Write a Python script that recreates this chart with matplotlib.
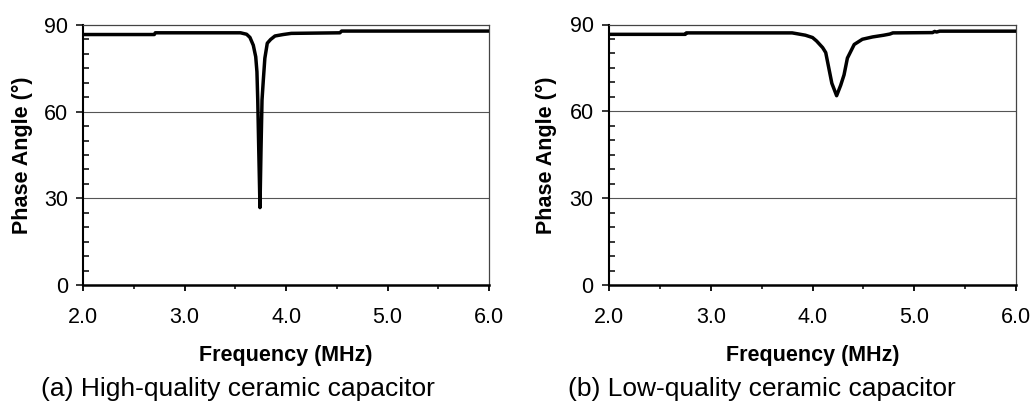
import matplotlib
matplotlib.use("Agg")
import matplotlib.pyplot as plt
from matplotlib.ticker import MultipleLocator, FormatStrFormatter

# ---- data ----
freq_a = [2.00, 2.70, 2.71, 3.55, 3.61, 3.643, 3.676, 3.70, 3.712, 3.72, 3.73, 3.742,
          3.752, 3.762, 3.775, 3.79, 3.814, 3.847, 3.89, 3.97, 4.05, 4.53, 4.547, 6.00]
phase_a = [86.7, 86.7, 87.3, 87.3, 86.8, 85.7, 83.0, 79.0, 73.8, 64.0, 46.7, 26.8,
           46.7, 64.0, 71.0, 78.5, 83.7, 85.0, 86.2, 86.7, 87.1, 87.3, 87.9, 87.9]

freq_b = [2.00, 2.75, 2.76, 3.80, 3.85, 3.93, 4.00, 4.04, 4.10, 4.13, 4.16, 4.19, 4.237,
          4.277, 4.31, 4.343, 4.41, 4.49, 4.59, 4.70, 4.76, 4.79, 5.18, 5.20, 5.22, 5.25, 6.00]
phase_b = [86.6, 86.6, 87.1, 87.1, 86.8, 86.3, 85.5, 84.3, 82.0, 80.3, 75.0, 69.7, 65.4,
           69.0, 72.6, 78.4, 83.1, 84.9, 85.7, 86.3, 86.7, 87.1, 87.2, 87.6, 87.4, 87.7, 87.7]

x_ticks = [2.0, 3.0, 4.0, 5.0, 6.0]
y_ticks = [0, 30, 60, 90]
xlabel = "Frequency (MHz)"
ylabel = "Phase Angle (°)"
captions = ["(a) High-quality ceramic capacitor", "(b) Low-quality ceramic capacitor"]

plt.rcParams['font.family'] = ['Liberation Sans', 'DejaVu Sans']

fig = plt.figure(figsize=(10.32, 4.05), dpi=100)
W, H = 1032, 405
boxes = [(83.3, 489.0, 25.0, 285.0), (609.0, 1016.0, 24.5, 285.0)]
caption_x = [237.5, 761.5]

for i, (fx, py) in enumerate([(freq_a, phase_a), (freq_b, phase_b)]):
    l, r, t, b = boxes[i]
    ax = fig.add_axes([l / W, 1 - b / H, (r - l) / W, (b - t) / H])
    ax.plot(fx, py, color='black', lw=2.5, solid_joinstyle='round', zorder=3)
    ax.set_xlim(2.0, 6.0)
    ax.set_ylim(0, 90)
    ax.set_xticks(x_ticks)
    ax.set_yticks(y_ticks)
    ax.xaxis.set_major_formatter(FormatStrFormatter('%.1f'))
    ax.xaxis.set_minor_locator(MultipleLocator(0.5))
    ax.yaxis.set_minor_locator(MultipleLocator(5))
    for yv in [30, 60]:
        ax.axhline(yv, color='#555555', lw=0.8, zorder=1)
    ax.spines['left'].set_linewidth(1.5)
    ax.spines['bottom'].set_linewidth(1.8)
    for s in ['top', 'right']:
        ax.spines[s].set_color('#444444')
        ax.spines[s].set_linewidth(0.9)
    ax.tick_params(axis='x', which='major', direction='out', length=4.5, width=1.3,
                   pad=11, labelsize=15.5)
    ax.tick_params(axis='x', which='minor', direction='out', length=3.0, width=1.1)
    ax.tick_params(axis='y', which='major', direction='out', length=5.0, width=1.1,
                   pad=6, labelsize=15.5)
    ax.tick_params(axis='y', which='minor', direction='in', length=4.0, width=1.1)
    ax.tick_params(top=False, right=False, which='both')
    ax.set_xlabel(xlabel, fontsize=15.5, fontweight='bold')
    ax.set_ylabel(ylabel, fontsize=15.5, fontweight='bold')
    ax.xaxis.label.set_va('center')
    ax.xaxis.set_label_coords(0.5, (b - 355.0) / (b - t))
    ax.yaxis.label.set_va('center')
    ax.yaxis.label.set_ha('center')
    lab_x = [22.0, 546.0][i]
    ax.yaxis.set_label_coords((lab_x - l) / (r - l), 0.5)
    fig.text(caption_x[i] / W, 1 - 389.0 / H, captions[i], ha='center', va='center',
             fontsize=19)

fig.savefig("out.png", dpi=100)
